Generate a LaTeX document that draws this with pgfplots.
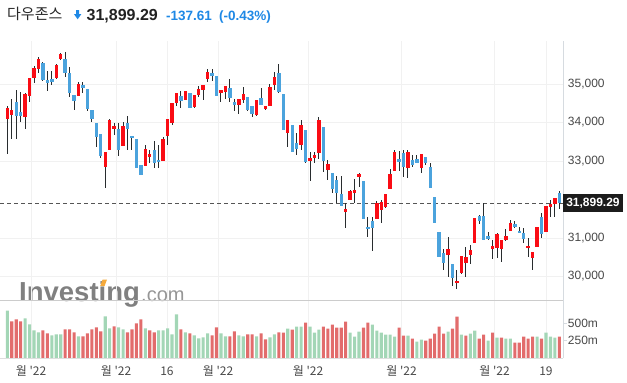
\documentclass[border=0pt]{standalone}
\usepackage{pgfplots}
\pgfplotsset{compat=1.18}
\usepackage{pgfplotstable}
\usepackage{fontspec}
\setmainfont{Liberation Sans}
\newfontfamily\kr{Noto Sans CJK KR}
\definecolor{upc}{RGB}{250,12,20}
\definecolor{dnc}{RGB}{75,163,221}
\definecolor{wick}{RGB}{40,44,46}
\definecolor{vg}{RGB}{163,214,182}
\definecolor{vr}{RGB}{226,108,108}
\definecolor{gridc}{RGB}{241,241,241}
\definecolor{blu}{RGB}{30,136,229}
\definecolor{lab}{RGB}{72,72,72}
\definecolor{axisc}{RGB}{214,219,224}
\definecolor{sepc}{RGB}{204,204,204}
\definecolor{titc}{RGB}{40,40,40}
\definecolor{numc}{RGB}{34,34,34}
\definecolor{wm}{RGB}{128,128,128}
\definecolor{wml}{RGB}{150,150,150}
\definecolor{orng}{RGB}{245,170,60}
\definecolor{dashc}{RGB}{85,85,85}
\definecolor{boxc}{RGB}{28,28,28}
\definecolor{botc}{RGB}{222,222,222}

\pgfplotstableread{
n o h l c
1 34082 34437 33182 34368
2 34204 34602 33571 34325
3 34533 34844 33571 34169
4 34273 34792 34022 34169
5 34152 34760 33823 34740
6 34697 35156 34533 35156
7 35165 35468 35017 35416
8 35390 35710 35294 35649
9 35545 35560 35087 35113
10 35104 35346 34818 35035
11 35130 35338 34974 35061
12 35165 35510 35121 35494
13 35641 35814 35623 35788
14 35649 35831 35190 35277
15 35294 35433 34654 34758
16 34714 34714 34325 34567
17 34697 35052 34697 35000
18 34966 35052 34758 34905
19 34862 34862 34299 34342
20 34325 34325 34013 34100
21 33987 33987 33372 33615
22 33701 33701 33069 33130
23 32853 33234 32290 33234
24 33294 34082 33294 34065
25 33840 33996 33675 33909
26 33831 33979 33130 33294
27 33398 34022 33398 33909
28 33979 34178 33286 33823
29 33658 33658 33286 33606
30 33580 33580 32827 32827
31 32888 32888 32628 32645
32 32879 33407 32879 33303
33 33113 33286 32957 33182
34 33286 33511 32827 32957
35 33026 33407 32827 32965
36 33009 33632 33009 33571
37 33649 34091 33407 34091
38 33996 34507 33926 34507
39 34498 34766 34437 34766
40 34697 34810 34368 34567
41 34585 34830 34585 34810
42 34758 34758 34368 34368
43 34411 34706 34385 34706
44 34723 34948 34654 34862
45 34844 34966 34585 34966
46 35139 35390 35043 35312
47 35286 35390 35087 35217
48 35208 35208 34697 34697
49 34758 34844 34541 34844
50 34801 34948 34610 34948
51 34896 35130 34541 34645
52 34541 34602 34290 34463
53 34463 34610 34221 34610
54 34585 34922 34498 34740
55 34654 34654 34290 34325
56 34437 34437 34134 34221
57 34186 34585 34169 34585
58 34636 34888 34463 34463
59 34359 34429 34325 34429
60 34420 34991 34420 34922
61 34983 35320 34844 35182
62 35286 35511 34758 34801
63 34732 34732 33805 33805
64 33736 34065 33355 34065
65 33935 33935 33243 33243
66 33468 33727 33156 33320
67 33407 34056 33286 33926
68 33805 33805 32940 32974
69 32992 33225 32472 33078
70 33087 33225 32940 33156
71 33199 34134 33043 34065
72 33874 33874 32714 33009
73 32766 33026 32506 32913
74 32680 32680 32160 32264
75 32506 32610 31900 32160
76 32143 32610 31831 31840
77 31684 31900 31251 31745
78 31987 32247 31987 32212
79 32160 32524 31900 32247
80 32593 32697 32333 32662
81 32480 32480 31494 31494
82 31294 31554 31035 31225
83 31442 31554 30662 31268
84 31494 31970 31494 31900
85 31727 31987 31381 31944
86 31797 32143 31771 32143
87 32264 32784 32264 32662
88 32749 33286 32749 33242
89 33052 33260 32749 32974
90 33199 33286 32593 32835
91 32827 33286 32550 33242
92 33026 33156 32853 32896
93 33052 33156 32939 32939
94 32810 33173 32680 33173
95 33113 33113 32896 32957
96 32835 32957 32290 32290
97 32056 32056 31398 31398
98 31156 31156 30515 30515
99 30602 30706 30169 30359
100 30559 31017 29996 30706
101 30325 30325 29753 29952
102 29822 30169 29667 29883
103 30082 30532 30065 30532
104 30359 30775 29996 30498
105 30559 30810 30325 30688
106 30879 31511 30879 31511
107 31572 31597 31355 31450
108 31572 31918 30948 30948
109 31052 31156 30948 30983
110 30706 30948 30446 30792
111 30749 31139 30489 31095
112 30706 30960 30385 30948
113 30948 31234 30930 31052
114 31191 31468 31191 31398
115 31364 31442 31250 31294
116 31191 31294 31121 31121
117 31121 31251 30862 30974
118 30732 30991 30515 30792
119 30472 30628 30169 30628
120 30775 31277 30757 31277
121 31554 31641 30991 31104
122 31165 31831 31165 31831
123 31814 31987 31554 31883
124 31883 32047 31554 32047
125 32160 32221 31745 31899.29
}\candles

\pgfplotstableread{
n v g
1 686 1
2 528 0
3 557 0
4 528 0
5 571 1
6 485 1
7 398 1
8 370 1
9 398 0
10 355 0
11 326 1
12 341 1
13 341 1
14 413 0
15 413 0
16 370 0
17 312 1
18 312 0
19 355 0
20 413 0
21 442 0
22 384 0
23 600 1
24 427 1
25 456 0
26 442 1
27 413 1
28 370 0
29 413 0
30 499 0
31 557 0
32 427 1
33 398 0
34 370 0
35 398 1
36 398 1
37 427 1
38 341 1
39 629 1
40 413 0
41 370 1
42 355 0
43 326 1
44 283 1
45 298 1
46 355 1
47 326 0
48 442 0
49 355 1
50 312 1
51 312 0
52 384 0
53 326 1
54 312 1
55 341 0
56 341 0
57 312 1
58 355 0
59 269 0
60 298 1
61 341 1
62 370 0
63 366 0
64 424 1
65 410 0
66 453 1
67 453 1
68 511 0
69 453 1
70 366 1
71 410 1
72 453 0
73 424 0
74 482 0
75 439 0
76 439 0
77 525 0
78 366 1
79 308 1
80 381 1
81 439 0
82 511 0
83 482 1
84 395 1
85 366 1
86 337 1
87 337 1
88 308 1
89 439 0
90 323 0
91 323 1
92 280 0
93 236 1
94 265 1
95 251 0
96 280 0
97 352 0
98 453 0
99 352 0
100 381 1
101 424 0
102 598 0
103 337 1
104 323 0
105 352 1
106 395 1
107 280 0
108 337 0
109 251 1
110 366 0
111 294 1
112 294 0
113 280 1
114 280 1
115 222 0
116 222 0
117 308 0
118 280 0
119 308 0
120 308 1
121 280 0
122 366 1
123 308 1
124 294 1
125 308 0
}\vol

\begin{document}
\begin{tikzpicture}[x=1pt,y=1pt]
\useasboundingbox (0pt,0pt) rectangle (627pt,-383pt);
% title
\node[anchor=base west, inner sep=0pt, font=\kr\fontsize{15}{18}\selectfont, text=titc] at (7pt,-19pt) {다우존스};
\fill[blu] (76.1pt,-10pt) -- (79.2pt,-10pt) -- (79.2pt,-14pt) -- (81.4pt,-14pt) -- (77.65pt,-19.3pt) -- (73.9pt,-14pt) -- (76.1pt,-14pt) -- cycle;
\node[anchor=base west, inner sep=0pt, font=\bfseries\fontsize{16}{18}\selectfont, text=numc] at (86.5pt,-20.6pt) {31,899.29};
\node[anchor=base west, inner sep=0pt, font=\bfseries\fontsize{13.5}{16}\selectfont, text=blu] at (166pt,-20.4pt) {-137.61};
\node[anchor=base west, inner sep=0pt, font=\bfseries\fontsize{13.5}{16}\selectfont, text=blu] at (219pt,-20.4pt) {(-0.43\%)};
% watermark
\node[anchor=base west, inner sep=0pt, font=\bfseries\fontsize{27.5}{30}\selectfont, text=wm] at (19pt,-301.5pt) {Investing};
\node[anchor=base west, inner sep=0pt, font=\fontsize{20}{22}\selectfont, text=wml] at (141pt,-301.5pt) {.com};
\fill[orng] (100.2pt,-286pt) -- (102.6pt,-279.5pt) -- (107pt,-279.5pt) -- (104.6pt,-286pt) -- cycle;

% price panel
\begin{axis}[
  at={(0pt,-41pt)}, anchor=north west, scale only axis,
  width=563pt, height=259.7pt,
  xmin=-0.64, xmax=125.82, ymin=29371, ymax=36117,
  scaled y ticks=false, scaled x ticks=false,
  axis line style={draw=none},
  xtick={6.32,25.42,36.87,48.33,68.55,89.55,110.43,122}, xticklabels={},
  xmajorgrids, ymajorgrids, grid style={draw=gridc, line width=0.9pt},
  ytick={30000,31000,33000,34000,35000},
  yticklabels={{30,000},{31,000},{33,000},{34,000},{35,000}},
  yticklabel pos=right, ytick pos=right,
  major tick length=0pt,
  yticklabel style={anchor=west, inner sep=0pt, xshift=4.7pt, font=\fontsize{12}{14}\selectfont, text=lab},
  clip=false,
]
\addplot[forget plot, mark=none, draw=dashc, line width=1pt, dash pattern=on 4pt off 3pt]
  coordinates {(-0.64,31899.29) (125.82,31899.29)};
\addplot[forget plot, draw=none, mark=none,
  error bars/.cd, y dir=both, y explicit, error mark=none,
  error bar style={draw=wick, line width=1pt}]
  table[x=n, y expr={(\thisrow{h}+\thisrow{l})/2},
        y error plus expr={(\thisrow{h}-\thisrow{l})/2},
        y error minus expr={(\thisrow{h}-\thisrow{l})/2}] {\candles};
\addplot[forget plot, draw=none, mark=none,
  restrict expr to domain={\thisrow{c}-\thisrow{o}}{0:100000},
  error bars/.cd, y dir=both, y explicit, error mark=none,
  error bar style={draw=upc, line width=3.4pt}]
  table[x=n, y expr={(\thisrow{o}+\thisrow{c})/2},
        y error expr={abs(\thisrow{c}-\thisrow{o})/2}] {\candles};
\addplot[forget plot, draw=none, mark=none,
  restrict expr to domain={\thisrow{c}-\thisrow{o}}{-100000:-0.001},
  error bars/.cd, y dir=both, y explicit, error mark=none,
  error bar style={draw=dnc, line width=3.4pt}]
  table[x=n, y expr={(\thisrow{o}+\thisrow{c})/2},
        y error expr={abs(\thisrow{c}-\thisrow{o})/2}] {\candles};
\draw[draw=sepc, line width=1.3pt] (rel axis cs:0,0) -- (rel axis cs:1,0);
\draw[draw=axisc, line width=1pt] (rel axis cs:1,0) -- (rel axis cs:1,1);
\node[fill=boxc, text=white, anchor=west, inner sep=0pt,
  minimum width=59.5pt, minimum height=18pt, font=\bfseries\fontsize{12}{14}\selectfont]
  at (axis cs:125.82,31899.29) {31,899.29};
\end{axis}

% volume panel
\begin{axis}[
  at={(0pt,-300.7pt)}, anchor=north west, scale only axis,
  width=563pt, height=57.3pt,
  xmin=-0.64, xmax=125.82, ymin=0, ymax=828,
  scaled y ticks=false, scaled x ticks=false,
  axis line style={draw=none},
  xtick={6.32,25.42,36.87,48.33,68.55,89.55,110.43,122},
  xticklabels={{월 \textquotesingle22},{월 \textquotesingle22},{16},{월 \textquotesingle22},{월 \textquotesingle22},{월 \textquotesingle22},{월 \textquotesingle22},{19}},
  xmajorgrids, grid style={draw=gridc, line width=0.9pt},
  ytick={250,500}, yticklabels={250m,500m},
  yticklabel pos=right, ytick pos=right,
  major tick length=0pt,
  yticklabel style={anchor=west, inner sep=0pt, xshift=4.7pt, font=\fontsize{12}{14}\selectfont, text=lab},
  xticklabel style={anchor=base, inner sep=0pt, yshift=-17pt, font=\kr\fontsize{12}{14}\selectfont, text=lab},
  clip=false,
]
\addplot[ybar, bar width=3.1pt, bar shift=0pt, fill=vg, draw=none,
  restrict expr to domain={\thisrow{g}}{1:1}] table[x=n, y=v] {\vol};
\addplot[ybar, bar width=3.1pt, bar shift=0pt, fill=vr, draw=none,
  restrict expr to domain={\thisrow{g}}{0:0}] table[x=n, y=v] {\vol};
\draw[draw=botc, line width=1pt] (rel axis cs:0,0) -- (rel axis cs:1,0);
\draw[draw=axisc, line width=1pt] (rel axis cs:1,0) -- (rel axis cs:1,1);
\draw[draw=axisc, line width=1pt] (rel axis cs:1,0) ++(0pt,0pt) (axis cs:125.82,500) -- ++(3.5pt,0pt);
\draw[draw=axisc, line width=1pt] (axis cs:125.82,250) -- ++(3.5pt,0pt);
\end{axis}
\end{tikzpicture}
\end{document}
